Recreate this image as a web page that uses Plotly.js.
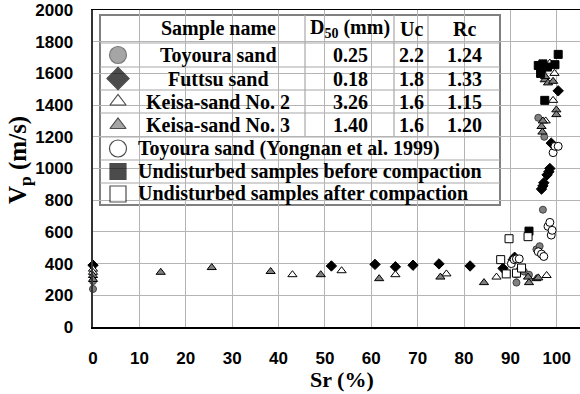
<!DOCTYPE html>
<html><head><meta charset="utf-8">
<script src="https://cdn.plot.ly/plotly-3.0.1.min.js"></script>
<style>html,body{margin:0;padding:0;background:#fff}#c{width:580px;height:394px}</style>
</head><body><div id="c"></div>
<script>
// ---- data (Sr %, Vp m/s) ----
const toyouraSr = [0, 0, 91.3, 91.3, 92.0, 92.9, 94.0, 95.6, 96.3, 97.0, 97.3, 96.0];
const toyouraVp = [240, 290, 330, 280, 360, 350, 330, 490, 510, 740, 1200, 1320];
const futtsuSr = [0, 51.4, 60.8, 65.2, 69.0, 74.6, 81.3, 88.4, 90.6, 90.9, 96.7, 97.0, 97.2, 97.9, 98.3, 98.5, 98.8, 100.3];
const futtsuVp = [390, 385, 395, 380, 390, 398, 385, 370, 425, 440, 870, 890, 910, 960, 980, 1000, 1160, 1490];
const keisa2Sr = [0, 0, 43.0, 53.6, 65.2, 76.2, 87.0, 97.8, 97.6, 99.2, 98.5, 99.5];
const keisa2Vp = [365, 345, 330, 355, 330, 335, 315, 325, 1300, 1430, 1665, 1600];
const keisa3Sr = [0, 0, 14.6, 25.6, 38.3, 49.1, 61.7, 74.9, 84.3, 93.8, 94.0, 95.6, 96.0, 96.7, 96.9, 97.0, 99.9, 99.9, 96.7, 97.4, 98.1, 99.2, 97.5];
const keisa3Vp = [325, 300, 345, 375, 350, 330, 305, 315, 280, 315, 280, 305, 310, 1265, 1230, 1300, 1370, 1340, 1620, 1560, 1540, 1550, 1580];
const yongnanSr = [90.2, 90.8, 91.3, 91.9, 96.0, 96.7, 97.2, 98.1, 98.5, 98.8, 99.0, 99.2, 99.6, 100.3];
const yongnanVp = [400, 425, 430, 430, 475, 460, 445, 635, 660, 580, 610, 1100, 1140, 1140];
const beforeSr = [94.0, 96.0, 96.5, 97.0, 98.0, 99.6, 100.3, 97.4];
const beforeVp = [605, 1650, 1600, 1660, 1640, 1655, 1720, 1430];
const afterSr = [87.9, 89.1, 89.7, 91.3, 92.4, 93.8];
const afterVp = [425, 335, 557, 340, 372, 570];

// ---- legend table text ----
const headers = ["Sample name", "D<sub>50</sub> (mm)", "Uc", "Rc"];
const sampleNames = ["Toyoura sand", "Futtsu sand", "Keisa-sand No. 2", "Keisa-sand No. 3"];
const d50 = ["0.25", "0.18", "3.26", "1.40"];
const uc = ["2.2", "1.8", "1.6", "1.6"];
const rc = ["1.24", "1.33", "1.15", "1.20"];
const extraNames = ["Toyoura sand (Yongnan et al. 1999)", "Undisturbed samples before compaction", "Undisturbed samples after compaction"];
const xTicks = [0,10,20,30,40,50,60,70,80,90,100];
const yTicks = [0,200,400,600,800,1000,1200,1400,1600,1800,2000];

// ---- layout geometry (pixels) ----
const L = 93, R = 580, T = 10, B = 327, XMAX = 105, YMAX = 2000;
const px = x => (x - L) / (R - L);
const py = y => (B - y) / (B - T);
const dx = x => (x - L) / (R - L) * XMAX;
const dy = y => (B - y) / (B - T) * YMAX;

const grey = '#808080';
const styles = [
  {sym:'circle', color:grey, line:'#404040', size:7},
  {sym:'diamond', color:'#000', line:'#000', size:8},
  {sym:'triangle-up', color:'#fff', line:'#000', size:8},
  {sym:'triangle-up', color:grey, line:'#000', size:8},
  {sym:'circle', color:'#fff', line:'#000', size:8},
  {sym:'square', color:'#000', line:'#000', size:8},
  {sym:'square', color:'#fff', line:'#000', size:8}
];
const series = [
  [toyouraSr, toyouraVp], [futtsuSr, futtsuVp], [keisa2Sr, keisa2Vp], [keisa3Sr, keisa3Vp],
  [yongnanSr, yongnanVp], [beforeSr, beforeVp], [afterSr, afterVp]
];
const traces = series.map((s, i) => ({
  type:'scatter', mode:'markers', x:s[0], y:s[1], showlegend:false, cliponaxis:false,
  marker:{symbol:styles[i].sym, size:styles[i].size, color:styles[i].color, line:{color:styles[i].line, width:1}}
}));

// legend table
const rowsY = [15, 43, 67, 90, 113, 137, 160, 183, 205];
const colX = [100, 305, 394, 428, 500];
const shapes = [{type:'rect', xref:'paper', yref:'paper', x0:px(100), x1:px(500), y0:py(15), y1:py(205),
  fillcolor:'#fff', line:{color:'#808080', width:2}, layer:'between'}];
for (let i = 1; i < rowsY.length - 1; i++) shapes.push({type:'line', xref:'paper', yref:'paper',
  x0:px(100), x1:px(500), y0:py(rowsY[i]), y1:py(rowsY[i]), line:{color:'#a8a8a8', width:1.2}, layer:'between'});
for (let j = 1; j < 4; j++) shapes.push({type:'line', xref:'paper', yref:'paper',
  x0:px(colX[j]), x1:px(colX[j]), y0:py(15), y1:py(137), line:{color:'#a8a8a8', width:1.2}, layer:'between'});

const serif = 'Liberation Serif, Times New Roman, serif';
const tf = {family:serif, size:20, color:'#000', weight:'bold'};
const annotations = [];
const ann = (text, x, y, anchor) => annotations.push({text, xref:'paper', yref:'paper', x:px(x), y:py(y),
  xanchor:anchor || 'center', yanchor:'middle', showarrow:false, font:tf});
const colC = [218, 350, 411, 464];
headers.forEach((h, j) => ann(h, colC[j], 29));
const rowC = [55, 78.5, 101.5, 125];
sampleNames.forEach((n, i) => { ann(n, colC[0], rowC[i]); ann(d50[i], colC[1], rowC[i]); ann(uc[i], colC[2], rowC[i]); ann(rc[i], colC[3], rowC[i]); });
const rowE = [148.5, 171.5, 194];
extraNames.forEach((n, i) => ann(n, 136, rowE[i], 'left'));

// legend symbols
const legY = rowC.concat(rowE);
traces.push({type:'scatter', mode:'markers', showlegend:false, hoverinfo:'skip', cliponaxis:false,
  x: legY.map(() => dx(118)), y: legY.map(v => dy(v)),
  marker:{symbol: styles.map(s => s.sym), color: styles.map(s => s.color),
    line:{color: styles.map(s => s.line), width:1.2}, size:[17,17,14,14,17,16,16]}});

// axis titles
annotations.push({text:'V<sub>p</sub> (m/s)', xref:'paper', yref:'paper', x:px(20), y:py(160), textangle:-90,
  xanchor:'center', yanchor:'middle', showarrow:false, font:{family:serif, size:25, color:'#000', weight:'bold'}});
annotations.push({text:'Sr (%)', xref:'paper', yref:'paper', x:px(342), y:py(393), borderpad:0,
  xanchor:'center', yanchor:'bottom', showarrow:false, font:{family:serif, size:22, color:'#000', weight:'bold'}});

const tick = {family:'Liberation Sans, Arial, sans-serif', size:17, color:'#000', weight:'bold'};
const layout = {
  width:580, height:394, margin:{l:L, r:580-R, t:T, b:394-B}, paper_bgcolor:'#fff', plot_bgcolor:'#fff',
  xaxis:{range:[0, XMAX], tickvals:xTicks, ticktext:xTicks.map(String), showgrid:true, gridcolor:'#b4b4b4', gridwidth:1,
    zeroline:false, showline:true, linecolor:'#000', linewidth:1.5, mirror:true, ticks:'', tickfont:tick, ticklabelstandoff:15},
  yaxis:{range:[0, YMAX], tickvals:yTicks, ticktext:yTicks.map(String), showgrid:true, gridcolor:'#b4b4b4', gridwidth:1,
    zeroline:false, showline:true, linecolor:'#333', linewidth:2.5, ticks:'', tickfont:tick, ticklabelstandoff:14},
  shapes, annotations, showlegend:false
};
Plotly.newPlot('c', traces, layout, {staticPlot:true});
</script></body></html>
